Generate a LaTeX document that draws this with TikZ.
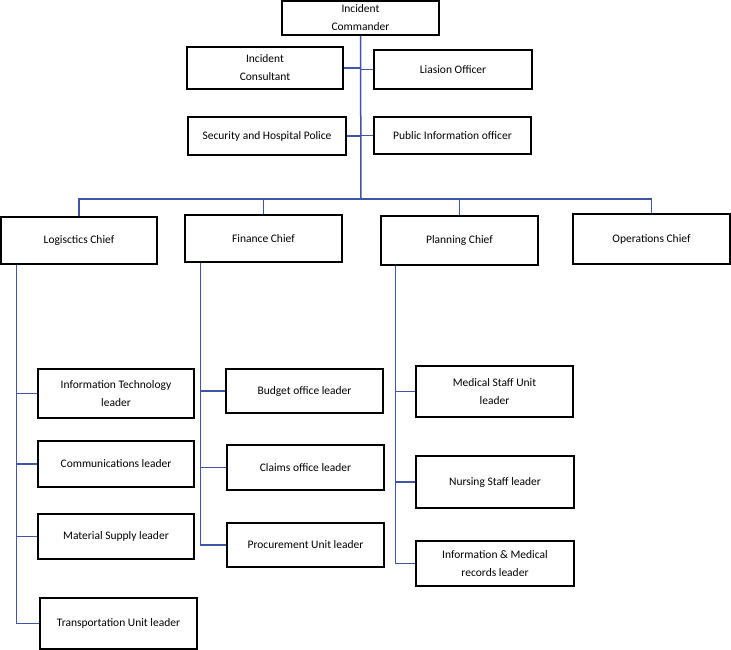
\documentclass[tikz,border=0pt]{standalone}
\usepackage{fontspec}
\setmainfont{Carlito}
\definecolor{linkblue}{RGB}{64,84,168}
\begin{document}
\begin{tikzpicture}[x=1pt,y=-1pt,
  box/.style={draw=black, line width=1.4pt, inner sep=0pt, align=center,
    font=\fontsize{11.5}{18}\selectfont},
  link/.style={draw=linkblue, line width=1.5pt}]
\useasboundingbox (0,0) rectangle (731,650);
% top
\node[box, minimum width=157pt, minimum height=34pt] (ic) at (360.5,18) {Incident\\Commander};
\node[box, minimum width=156pt, minimum height=42pt] (cons) at (265,68) {Incident\\Consultant};
\node[box, minimum width=158pt, minimum height=39pt] (liaison) at (453,69.5) {Liasion Officer};
\node[box, minimum width=158pt, minimum height=38pt] (sec) at (267,136) {Security and Hospital Police};
\node[box, minimum width=157pt, minimum height=37pt] (pio) at (452.5,135.5) {Public Information officer};
% chiefs
\node[box, minimum width=156pt, minimum height=47pt] (log) at (79,240.5) {Logisctics Chief};
\node[box, minimum width=157pt, minimum height=47pt] (fin) at (263.5,238.5) {Finance Chief};
\node[box, minimum width=157pt, minimum height=49pt] (plan) at (459.5,240.5) {Planning Chief};
\node[box, minimum width=157pt, minimum height=50pt] (ops) at (651.5,239) {Operations Chief};
% logistics units
\node[box, minimum width=156pt, minimum height=49pt] (it) at (116,393.5) {Information Technology\\leader};
\node[box, minimum width=156pt, minimum height=46pt] (comm) at (116,464) {Communications leader};
\node[box, minimum width=156pt, minimum height=45pt] (mat) at (116,536.5) {Material Supply leader};
\node[box, minimum width=157pt, minimum height=51pt] (trans) at (118.5,623.5) {Transportation Unit leader};
% finance units
\node[box, minimum width=157pt, minimum height=44pt] (bud) at (304.5,391) {Budget office leader};
\node[box, minimum width=157pt, minimum height=45pt] (claims) at (305.5,467.5) {Claims office leader};
\node[box, minimum width=157pt, minimum height=44pt] (proc) at (305.5,545) {Procurement Unit leader};
% planning units
\node[box, minimum width=157pt, minimum height=51pt] (med) at (494.5,391.5) {Medical Staff Unit\\leader};
\node[box, minimum width=158pt, minimum height=52pt] (nurs) at (495,482) {Nursing Staff leader};
\node[box, minimum width=158pt, minimum height=45pt] (infomed) at (495,563.5) {Information \& Medical\\records leader};
% connectors
\coordinate (bus) at (361,199);
\draw[link] (ic.south) -- (bus);
\draw[link] (cons.east) -- (cons.east -| bus);
\draw[link] (liaison.west) -- (liaison.west -| bus);
\draw[link] (sec.east) -- (sec.east -| bus);
\draw[link] (pio.west) -- (pio.west -| bus);
\draw[link] (log.north) |- (bus);
\draw[link] (fin.north) |- (bus);
\draw[link] (plan.north) |- (bus);
\draw[link] (ops.north) |- (bus);
\coordinate (lt) at ([xshift=16pt]log.south west);
\coordinate (ft) at ([xshift=16pt]fin.south west);
\coordinate (pt) at ([xshift=15pt]plan.south west);
\draw[link] (lt) |- (trans.west);
\draw[link] (it.west) -- (it.west -| lt);
\draw[link] (comm.west) -- (comm.west -| lt);
\draw[link] (mat.west) -- (mat.west -| lt);
\draw[link] (ft) |- (proc.west);
\draw[link] (bud.west) -- (bud.west -| ft);
\draw[link] (claims.west) -- (claims.west -| ft);
\draw[link] (pt) |- (infomed.west);
\draw[link] (med.west) -- (med.west -| pt);
\draw[link] (nurs.west) -- (nurs.west -| pt);
\end{tikzpicture}
\end{document}
